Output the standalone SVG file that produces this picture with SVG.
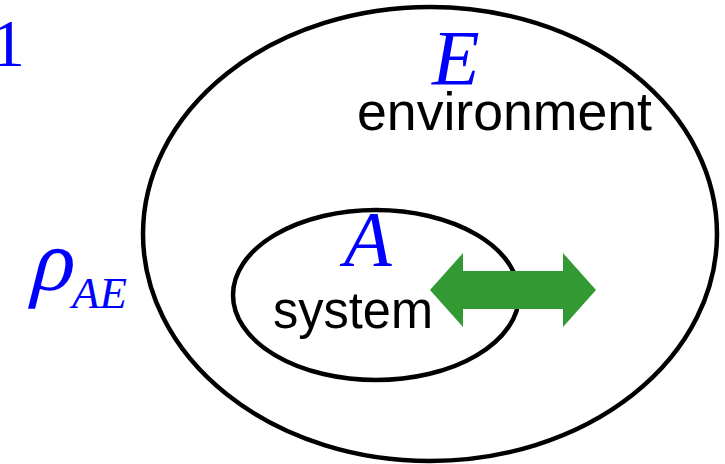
<svg xmlns="http://www.w3.org/2000/svg" width="725" height="464" viewBox="0 0 725 464">
<style>
.math{font-family:"Liberation Serif","Times New Roman",serif;fill:#0000ff;font-style:italic}
.lbl{font-family:"Liberation Sans",Arial,sans-serif;fill:#000}
.ring{fill:none;stroke:#000;stroke-width:4.5}
</style>
<rect width="725" height="464" fill="#fff"/>
<text x="-9" y="66" font-family="Liberation Serif, serif" font-size="68" fill="#0000ff">1</text>
<g id="environment">
<ellipse class="ring" cx="430" cy="234" rx="287" ry="227"/>
<text class="math" x="432" y="84" font-size="78">E</text>
<text class="lbl" x="357" y="130" font-size="53" textLength="295" lengthAdjust="spacingAndGlyphs">environment</text>
</g>
<g id="system">
<ellipse class="ring" cx="376" cy="295" rx="143" ry="85"/>
<text class="math" x="344" y="265" font-size="78">A</text>
<text class="lbl" x="273" y="328" font-size="51" textLength="160" lengthAdjust="spacingAndGlyphs">system</text>
</g>
<g id="state">
<text transform="translate(27,290) skewX(-14)" x="0" y="0" font-family="Liberation Serif, serif" font-size="88" fill="#0000ff">ρ</text>
<text class="math" x="72" y="308" font-size="45">AE</text>
</g>
<g id="connectors">
<polygon fill="#339933" points="430,290 463,253 463,271 563,271 563,253 596,290 563,327 563,309 463,309 463,327"/>
</g>
</svg>
